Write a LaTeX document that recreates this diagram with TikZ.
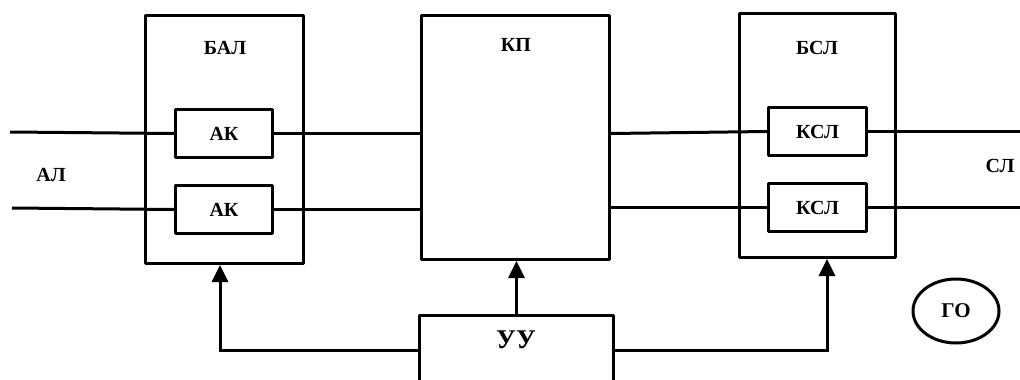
\documentclass[tikz,border=0pt]{standalone}
\usepackage{fontspec}
\setmainfont{Liberation Serif}
\usetikzlibrary{arrows.meta,shapes.geometric}
\begin{document}
\begin{tikzpicture}[x=1pt,y=-1pt,line width=3pt,
  box/.style={draw,rectangle,inner sep=0pt,anchor=north west,line join=round},
  lbl/.style={font=\bfseries\fontsize{20}{20}\selectfont,inner sep=0pt},
  big/.style={font=\bfseries\fontsize{27}{27}\selectfont,inner sep=0pt},
  ar/.style={-{Triangle[length=17pt,width=16pt]}}]
\useasboundingbox (0,0) rectangle (1020,380);
\clip (0,0) rectangle (1020,380);
% blocks
\node[box,minimum width=158pt,minimum height=248pt] (bal) at (144,14) {};
\node[box,minimum width=97pt,minimum height=48pt,lbl] (ak1) at (174,108) {АК};
\node[box,minimum width=97pt,minimum height=48pt,lbl] (ak2) at (174,184) {АК};
\node[box,minimum width=188pt,minimum height=244pt] (kp) at (420,14) {};
\node[box,minimum width=194pt,minimum height=100pt] (uu) at (418,314) {};
\node[box,minimum width=156pt,minimum height=244pt] (bsl) at (738,12) {};
\node[box,minimum width=98pt,minimum height=48pt,lbl] (ksl1) at (767,106) {КСЛ};
\node[box,minimum width=98pt,minimum height=48pt,lbl] (ksl2) at (767,182) {КСЛ};
\node[draw,ellipse,minimum width=86pt,minimum height=64pt,lbl,font=\bfseries\fontsize{21}{21}\selectfont] (go) at (956,311) {ГО};
% labels
\node[lbl] (tbal) at (225,48) {БАЛ};
\node[lbl] (tkp) at (516,45) {КП};
\node[lbl] (tbsl) at (817,48) {БСЛ};
\node[big] (tuu) at (516,340) {УУ};
\node[lbl] (tal) at (51,175) {АЛ};
\node[lbl] (tsl) at (1000,166) {СЛ};
% lines
\coordinate (al1) at (10,132);
\coordinate (al2) at (12,208);
\coordinate (sl1) at (1020,130);
\coordinate (sl2) at (1020,206);
\draw (al1) -- (ak1.west);
\draw (al2) -- (ak2.west);
\draw (ak1.east) -- (kp.west |- ak1.east);
\draw (ak2.east) -- (kp.west |- ak2.east);
\draw (kp.east |- ak1.east) -- (ksl1.west);
\draw (kp.east |- ksl2.west) -- (ksl2.west);
\draw (ksl1.east) -- (ksl1.east -| sl1);
\draw (ksl2.east) -- (ksl2.east -| sl2);
% control arrows
\draw[ar] (uu.north) -- (uu.north |- kp.south);
\draw[ar] (uu.west |- 0,350) -| (bal.south -| 220,0);
\draw[ar] (uu.east |- 0,350) -| (bsl.south -| 827,0);
\end{tikzpicture}
\end{document}
